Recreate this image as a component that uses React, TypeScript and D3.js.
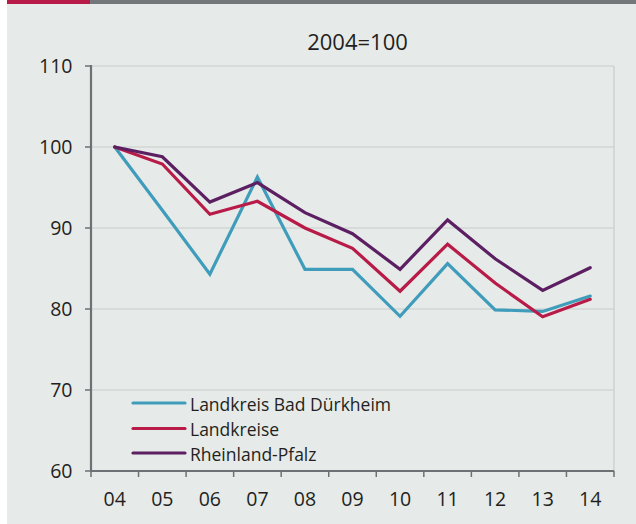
import React from "react";
import * as d3 from "d3";

const years = ["04", "05", "06", "07", "08", "09", "10", "11", "12", "13", "14"];
const badDuerkheim = [100, 92.2, 84.3, 96.3, 84.9, 84.9, 79.1, 85.6, 79.9, 79.7, 81.6];
const landkreise = [100, 97.9, 91.7, 93.3, 90.0, 87.5, 82.2, 88.0, 83.2, 79.05, 81.2];
const rheinlandPfalz = [100, 98.8, 93.2, 95.6, 91.9, 89.3, 84.9, 91.0, 86.2, 82.3, 85.1];
const yTicks = [60, 70, 80, 90, 100, 110];
const seriesNames = ["Landkreis Bad Dürkheim", "Landkreise", "Rheinland-Pfalz"];
const seriesColors = ["#3f9dbb", "#b81b48", "#5c1f62"];

export default function App() {
  const W = 636, H = 524;
  const left = 91, right = 614, top = 66, bottom = 471;
  const x = d3.scaleBand<string>().domain(years).range([left, right]);
  const y = d3.scaleLinear().domain([60, 110]).range([bottom, top]);
  const line = d3
    .line<number>()
    .x((_, i) => (x(years[i]) as number) + x.bandwidth() / 2)
    .y((d) => y(d));
  const series = [badDuerkheim, landkreise, rheinlandPfalz];
  const font = "'Open Sans', 'Noto Sans', sans-serif";
  const textColor = "#231f20";
  const axisColor = "#6d7174";
  const legendY = [403, 428.5, 453];

  return (
    <svg
      width={W}
      height={H}
      style={{ position: "absolute", left: 0, top: 0, display: "block" }}
      fontFamily={font}
    >
      <rect x={0} y={0} width={W} height={H} fill="#ffffff" />
      <rect x={7} y={0} width={W - 7} height={H} fill="#e6eae9" />
      <rect x={7} y={0} width={83} height={4} fill="#b81b48" />
      <rect x={90} y={0} width={W - 90} height={4} fill="#73777a" />

      <text x={357.5} y={50} textAnchor="middle" fontSize={22} fill={textColor}>
        2004=100
      </text>

      {yTicks.map((t) => (
        <g key={t}>
          {t > 60 && (
            <line x1={left} x2={right} y1={y(t)} y2={y(t)} stroke="#c8cbcb" strokeWidth={1.2} />
          )}
          <line x1={left - 6} x2={left} y1={y(t)} y2={y(t)} stroke={axisColor} strokeWidth={1.5} />
          <text x={72.5} y={y(t) + 7.2} textAnchor="end" fontSize={19.5} fill={textColor}>
            {t}
          </text>
        </g>
      ))}
      <line x1={right} x2={right} y1={top} y2={bottom} stroke="#c8cbcb" strokeWidth={1.2} />

      {years.map((yr) => (
        <text
          key={yr}
          x={(x(yr) as number) + x.bandwidth() / 2}
          y={506}
          textAnchor="middle"
          fontSize={19.5}
          fill={textColor}
        >
          {yr}
        </text>
      ))}
      {years.concat(["end"]).map((yr, i) => {
        const px = left + i * x.bandwidth();
        return (
          <line key={"t" + i} x1={px} x2={px} y1={bottom} y2={bottom + 6} stroke={axisColor} strokeWidth={1.5} />
        );
      })}
      <line x1={left} x2={left} y1={top - 1} y2={bottom + 1} stroke={axisColor} strokeWidth={2.2} />
      <line x1={left} x2={right} y1={bottom} y2={bottom} stroke={axisColor} strokeWidth={2.2} />

      {series.map((s, i) => (
        <path
          key={i}
          d={line(s) || ""}
          fill="none"
          stroke={seriesColors[i]}
          strokeWidth={3.2}
          strokeLinejoin="miter"
          strokeLinecap="round"
        />
      ))}

      {seriesNames.map((n, i) => (
        <g key={n}>
          <line
            x1={133}
            x2={185}
            y1={legendY[i]}
            y2={legendY[i]}
            stroke={seriesColors[i]}
            strokeWidth={3.2}
            strokeLinecap="round"
          />
          <text x={190} y={legendY[i] + 7.5} fontSize={17.5} fill={textColor}>
            {n}
          </text>
        </g>
      ))}
    </svg>
  );
}
